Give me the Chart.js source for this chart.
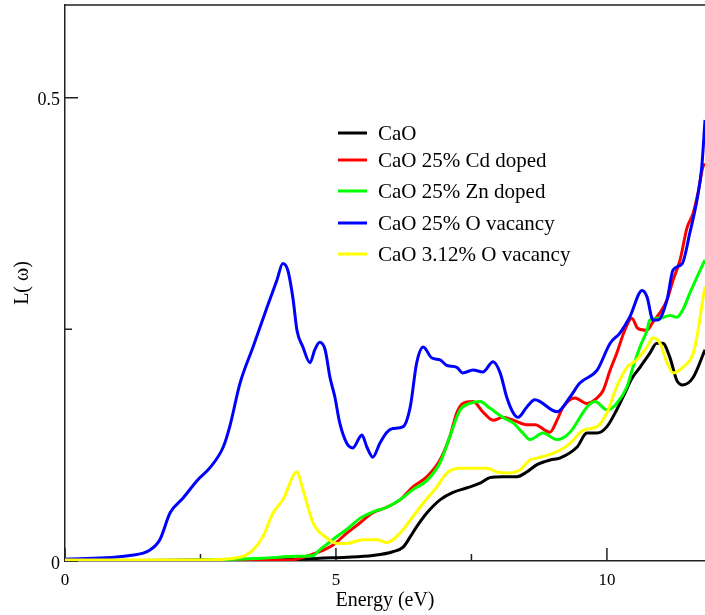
<!DOCTYPE html>
<html lang="en">
<head>
<meta charset="UTF-8">
<title>Energy loss L(ω)</title>
<script src="https://cdn.jsdelivr.net/npm/chart.js"></script>
<style>
  body { margin: 0; background: #fff; }
</style>
</head>
<body>
<canvas id="grafico" width="705" height="615"></canvas>
<script>
// data
var seriesNames = ['CaO', 'CaO 25% Cd doped', 'CaO 25% Zn doped', 'CaO 25% O vacancy', 'CaO 3.12% O vacancy'];
var seriesColors = ['#000000', '#ff0000', '#00ff00', '#0000ff', '#ffff00'];

var energyCaO = [0, 2.49, 4.34, 4.70, 5.20, 5.68, 6.05, 6.24, 6.37, 6.49, 6.68, 6.92, 7.16, 7.42, 7.66, 7.84, 8.08, 8.34, 8.52, 8.71, 8.95, 9.13, 9.45, 9.63, 9.82, 10.00, 10.18, 10.33, 10.46, 10.61, 10.79, 10.92, 11.03, 11.16, 11.29, 11.40, 11.59, 11.81];
var lossCaO = [0, 0.001, 0.002, 0.003, 0.004, 0.006, 0.010, 0.015, 0.026, 0.037, 0.052, 0.066, 0.074, 0.079, 0.084, 0.090, 0.091, 0.091, 0.096, 0.104, 0.109, 0.111, 0.123, 0.138, 0.138, 0.145, 0.163, 0.181, 0.197, 0.209, 0.224, 0.235, 0.235, 0.220, 0.195, 0.190, 0.198, 0.228];

var energyCd = [0, 4.15, 4.34, 4.65, 4.94, 5.20, 5.44, 5.68, 5.94, 6.18, 6.42, 6.68, 6.92, 7.10, 7.23, 7.34, 7.53, 7.71, 7.90, 8.08, 8.27, 8.52, 8.67, 8.95, 9.08, 9.19, 9.41, 9.63, 9.82, 9.93, 10.06, 10.18, 10.33, 10.46, 10.57, 10.74, 10.85, 10.98, 11.11, 11.22, 11.35, 11.48, 11.59, 11.68, 11.77, 11.81];
var lossCd = [0, 0.001, 0.003, 0.009, 0.017, 0.030, 0.041, 0.052, 0.058, 0.066, 0.080, 0.091, 0.109, 0.134, 0.160, 0.170, 0.172, 0.161, 0.152, 0.155, 0.152, 0.147, 0.147, 0.139, 0.152, 0.166, 0.176, 0.170, 0.176, 0.184, 0.206, 0.224, 0.249, 0.262, 0.251, 0.249, 0.258, 0.268, 0.282, 0.303, 0.325, 0.360, 0.375, 0.397, 0.425, 0.429];

var energyZn = [0, 2.5, 3.65, 4.28, 4.58, 4.70, 4.94, 5.26, 5.44, 5.68, 5.94, 6.18, 6.42, 6.68, 6.92, 7.10, 7.29, 7.47, 7.66, 7.84, 8.08, 8.27, 8.45, 8.58, 8.82, 9.08, 9.32, 9.63, 9.78, 10.00, 10.18, 10.37, 10.48, 10.61, 10.74, 10.79, 10.98, 11.16, 11.29, 11.40, 11.53, 11.66, 11.81];
var lossZn = [0, 0.001, 0.003, 0.005, 0.006, 0.012, 0.023, 0.037, 0.046, 0.053, 0.058, 0.066, 0.077, 0.087, 0.106, 0.134, 0.163, 0.170, 0.172, 0.165, 0.155, 0.149, 0.138, 0.131, 0.138, 0.131, 0.139, 0.166, 0.172, 0.163, 0.170, 0.188, 0.209, 0.231, 0.249, 0.260, 0.262, 0.265, 0.263, 0.271, 0.289, 0.306, 0.325];

var energyOv = [0, 1.20, 1.57, 1.75, 1.94, 2.18, 2.44, 2.68, 2.92, 3.04, 3.23, 3.47, 3.73, 3.91, 4.02, 4.11, 4.21, 4.28, 4.39, 4.52, 4.61, 4.70, 4.80, 4.89, 4.98, 5.07, 5.20, 5.31, 5.48, 5.57, 5.68, 5.81, 5.94, 6.05, 6.24, 6.37, 6.49, 6.61, 6.77, 6.92, 7.05, 7.23, 7.34, 7.53, 7.71, 7.90, 8.03, 8.15, 8.27, 8.36, 8.52, 8.67, 9.08, 9.32, 9.50, 9.82, 10.06, 10.24, 10.42, 10.65, 10.74, 10.85, 10.94, 11.11, 11.22, 11.39, 11.53, 11.66, 11.75, 11.81];
var lossOv = [0.002, 0.006, 0.012, 0.023, 0.052, 0.068, 0.087, 0.101, 0.123, 0.145, 0.192, 0.231, 0.274, 0.303, 0.321, 0.314, 0.282, 0.249, 0.231, 0.214, 0.228, 0.236, 0.228, 0.198, 0.177, 0.149, 0.127, 0.122, 0.136, 0.123, 0.112, 0.127, 0.139, 0.143, 0.145, 0.166, 0.214, 0.231, 0.219, 0.217, 0.211, 0.209, 0.203, 0.206, 0.204, 0.215, 0.203, 0.177, 0.160, 0.155, 0.166, 0.174, 0.161, 0.177, 0.192, 0.206, 0.235, 0.246, 0.263, 0.292, 0.285, 0.260, 0.260, 0.282, 0.314, 0.321, 0.354, 0.389, 0.425, 0.476];

var energyOv3 = [0, 2.49, 3.23, 3.47, 3.65, 3.84, 4.02, 4.28, 4.39, 4.58, 4.83, 5.02, 5.20, 5.50, 5.76, 5.94, 6.18, 6.37, 6.55, 6.86, 7.05, 7.29, 7.53, 7.79, 7.97, 8.15, 8.39, 8.58, 8.71, 9.08, 9.32, 9.56, 9.82, 10.00, 10.18, 10.37, 10.55, 10.74, 10.85, 10.98, 11.11, 11.22, 11.40, 11.59, 11.68, 11.75, 11.81];
var lossOv3 = [0.001, 0.001, 0.004, 0.012, 0.026, 0.052, 0.066, 0.096, 0.077, 0.041, 0.025, 0.019, 0.019, 0.023, 0.023, 0.020, 0.030, 0.044, 0.058, 0.080, 0.095, 0.100, 0.100, 0.100, 0.096, 0.095, 0.098, 0.109, 0.111, 0.118, 0.127, 0.141, 0.145, 0.160, 0.188, 0.209, 0.217, 0.231, 0.241, 0.235, 0.214, 0.203, 0.209, 0.224, 0.248, 0.275, 0.296];

var xTickLabels = [0, 5, 10];
var yTickLabels = [0, 0.5];

var energies = [energyCaO, energyCd, energyZn, energyOv, energyOv3];
var losses = [lossCaO, lossCd, lossZn, lossOv, lossOv3];

var fonte = '"Liberation Serif", "Times New Roman", serif';

function pontos(xs, ys) {
    var p = [];
    for (var i = 0; i < xs.length; i++) p.push({ x: xs[i], y: ys[i] });
    return p;
}

var datasets = [];
for (var i = 0; i < seriesNames.length; i++) {
    datasets.push({
        label: seriesNames[i],
        data: pontos(energies[i], losses[i]),
        borderColor: seriesColors[i],
        borderWidth: 3,
        pointRadius: 0,
        fill: false,
        cubicInterpolationMode: 'monotone',
        order: seriesNames.length - i   // last series drawn on top
    });
}

// inward ticks + top frame line
var moldura = {
    id: 'moldura',
    beforeDatasetsDraw: function (chart) {
        var ctx = chart.ctx, a = chart.chartArea;
        var xs = chart.scales.x, ys = chart.scales.y;
        ctx.save();
        ctx.strokeStyle = '#222';
        ctx.lineWidth = 1.5;
        ctx.beginPath();
        ctx.moveTo(a.left, a.top);
        ctx.lineTo(a.right, a.top);
        xs.ticks.forEach(function (t) {
            var px = xs.getPixelForValue(t.value);
            var len = xTickLabels.indexOf(t.value) >= 0 ? 13 : 7;
            ctx.moveTo(px, a.bottom);
            ctx.lineTo(px, a.bottom - len);
        });
        ys.ticks.forEach(function (t) {
            var py = ys.getPixelForValue(t.value);
            var len = yTickLabels.indexOf(t.value) >= 0 ? 13 : 7;
            ctx.moveTo(a.left, py);
            ctx.lineTo(a.left + len, py);
        });
        ctx.stroke();
        ctx.restore();
    }
};

// legend inside the plot
var legenda = {
    id: 'legenda',
    afterDatasetsDraw: function (chart) {
        var ctx = chart.ctx;
        var linhas = [133, 160, 191, 223, 254];
        ctx.save();
        ctx.font = '21px ' + fonte;
        ctx.textBaseline = 'middle';
        ctx.fillStyle = '#000';
        chart.data.datasets.forEach(function (ds, i) {
            ctx.strokeStyle = ds.borderColor;
            ctx.lineWidth = 3;
            ctx.beginPath();
            ctx.moveTo(338, linhas[i]);
            ctx.lineTo(367, linhas[i]);
            ctx.stroke();
            ctx.fillText(ds.label, 378, linhas[i] + 1);
        });
        ctx.restore();
    }
};

new Chart(document.getElementById('grafico'), {
    type: 'line',
    data: { datasets: datasets },
    options: {
        responsive: false,
        animation: false,
        devicePixelRatio: 1,
        layout: { padding: { top: 5, right: 0, left: 0, bottom: 0 } },
        plugins: { legend: { display: false }, tooltip: { enabled: false } },
        scales: {
            x: {
                type: 'linear',
                min: 0,
                max: 11.81,
                afterFit: function (s) { s.height = 54; s.paddingLeft = 0; s.paddingRight = 0; },
                grid: { display: false, drawTicks: false },
                border: { display: true, color: '#222', width: 1.5 },
                ticks: {
                    stepSize: 2.5,
                    includeBounds: false,
                    maxRotation: 0,
                    autoSkip: false,
                    padding: 9,
                    color: '#000',
                    font: { family: fonte, size: 17 },
                    callback: function (v) { return xTickLabels.indexOf(v) >= 0 ? String(v) : ''; }
                },
                title: {
                    display: true,
                    text: 'Energy (eV)',
                    color: '#000',
                    font: { family: fonte, size: 20 },
                    padding: { top: 0, bottom: 2 }
                }
            },
            y: {
                min: 0,
                max: 0.6,
                afterFit: function (s) { s.width = 65; s.paddingTop = 0; s.paddingBottom = 0; },
                grid: { display: false, drawTicks: false },
                border: { display: true, color: '#222', width: 1.5 },
                ticks: {
                    stepSize: 0.25,
                    includeBounds: false,
                    padding: 5,
                    labelOffset: 3,
                    color: '#000',
                    font: { family: fonte, size: 18 },
                    callback: function (v) { return yTickLabels.indexOf(v) >= 0 ? String(v) : ''; }
                },
                title: {
                    display: true,
                    text: 'L( ω)',
                    color: '#000',
                    font: { family: fonte, size: 20 },
                    padding: { top: 11, bottom: 0 }
                }
            }
        }
    },
    plugins: [moldura, legenda]
});
</script>
</body>
</html>
